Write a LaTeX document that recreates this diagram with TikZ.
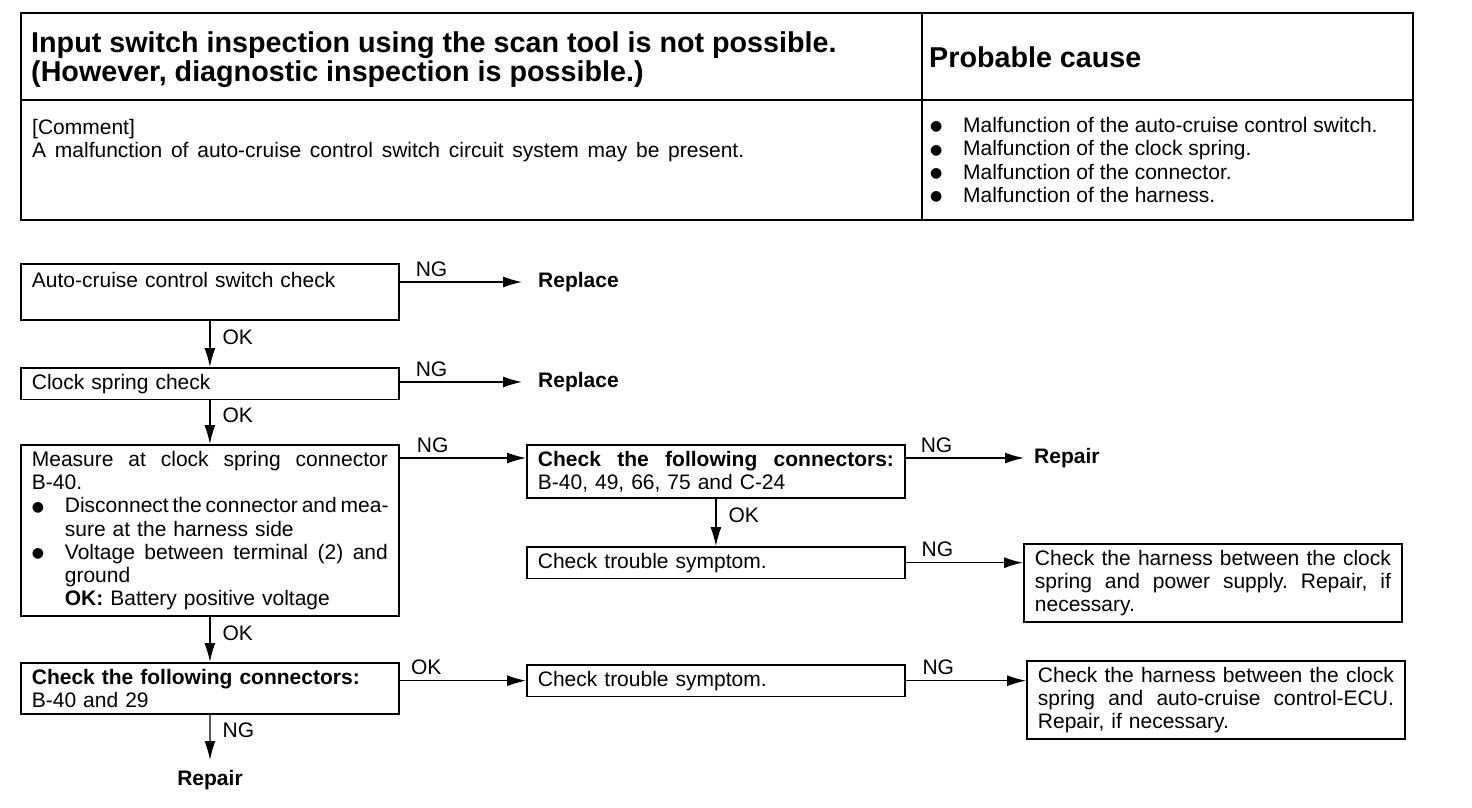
\documentclass[tikz,border=0pt]{standalone}
\usepackage{fontspec}
\setmainfont{Liberation Sans}
\newfontfamily\symfont{DejaVu Sans}
\usetikzlibrary{arrows.meta,positioning}
\newcommand\bodyfont{\fontsize{21}{23.3}\selectfont}
\newcommand\headfont{\fontsize{28.7}{29}\selectfont\bfseries}
\newcommand\jline[2][356pt]{\makebox[#1][s]{\frenchspacing\spaceskip=0pt\xspaceskip=0pt #2}}
\newcommand\bul{\makebox[33pt][l]{\raisebox{1.5pt}{\symfont\fontsize{14}{14}\selectfont ●}}}

\begin{document}
\begin{tikzpicture}[
    x=1pt,y=-1pt,>=Latex,
    stepbox/.style={draw,line width=1.8pt,anchor=north west,text width=356pt,
      inner xsep=11pt,inner ysep=6pt,align=left,font=\bodyfont},
    result/.style={anchor=west,inner ysep=2pt,font=\bodyfont\bfseries},
    lbl/.style={inner sep=2pt,font=\bodyfont},
    flow/.style={-{Latex[length=19pt,width=11pt]},line width=1.3pt}
  ]
  \useasboundingbox (0,0) rectangle (1472,808);

  % table
  \draw[line width=2.5pt] (21,13) rectangle (1413,220);
  \draw[line width=2pt] (21,100) -- (1413,100) (922,13) -- (922,220);
  \node[anchor=west,inner sep=0pt,align=left,font=\headfont] (title) at (31,59.5)
    {Input switch inspection using the scan tool is not possible.\\
     (However, diagnostic inspection is possible.)};
  \node[anchor=west,inner sep=0pt,font=\headfont] (cause) at (929,57) {Probable cause};
  \node[anchor=north west,inner sep=0pt,align=left,font=\bodyfont] (comment) at (32,119)
    {[Comment]\\
     \jline[712pt]{A malfunction of auto-cruise control switch circuit system may be present.}};
  \node[anchor=north west,inner sep=0pt,align=left,font=\bodyfont] (causes) at (930,117)
    {\bul Malfunction of the auto-cruise control switch.\\
     \bul Malfunction of the clock spring.\\
     \bul Malfunction of the connector.\\
     \bul Malfunction of the harness.};

  % flow chart
  \node[stepbox,text depth=25pt,inner ysep=8pt] (swchk) at (20,263) {Auto-cruise control switch check};
  \node[stepbox] (spchk) at (20,367) {Clock spring check};
  \node[stepbox] (meas) at (20,444)
    {\jline{Measure at clock spring connector}\\
     B-40.\\
     \bul\jline[323pt]{Disconnect the connector and mea-}\\
     \hspace*{33pt}sure at the harness side\\
     \bul\jline[323pt]{Voltage between terminal (2) and}\\
     \hspace*{33pt}ground\\
     \hspace*{33pt}\textbf{OK:} Battery positive voltage};
  \node[stepbox] (conA) at (526,444)
    {\jline{\textbf{Check the following connectors:}}\\
     B-40, 49, 66, 75 and C-24};
  \node[stepbox] (symA) at (526,546) {Check trouble symptom.};
  \node[stepbox] (harnA) at (1023,543)
    {\jline{Check the harness between the clock}\\
     \jline{spring and power supply. Repair, if}\\
     necessary.};
  \node[stepbox] (conB) at (20,662)
    {\textbf{Check the following connectors:}\\
     B-40 and 29};
  \node[stepbox] (symB) at (526,664) {Check trouble symptom.};
  \node[stepbox] (harnB) at (1026,660)
    {\jline{Check the harness between the clock}\\
     \jline{spring and auto-cruise control-ECU.}\\
     Repair, if necessary.};

  \node[result,inner xsep=16pt] (replA) at (522,282) {Replace};
  \node[result,inner xsep=16pt] (replB) at (522,382) {Replace};
  \node[result,inner xsep=10pt] (repA) at (1024,458) {Repair};
  \node[result,anchor=north,inner ysep=10pt] (repB) at (210,760) {Repair};

  \draw[flow] (swchk.east |- replA) -- node[lbl,above=3pt,pos=.26] {NG} (replA);
  \draw[flow] (swchk) -- node[lbl,right=10pt,pos=.35] {OK} (spchk);
  \draw[flow] (spchk.east |- replB) -- node[lbl,above=3pt,pos=.26] {NG} (replB);
  \draw[flow] (spchk) -- node[lbl,right=10pt,pos=.35] {OK} (meas);
  \draw[flow] (meas.east |- repA) -- node[lbl,above=3pt,pos=.26] {NG} (conA.west |- repA);
  \draw[flow] (conA.east |- repA) -- node[lbl,above=3pt,pos=.26] {NG} (repA);
  \draw[flow] (conA) -- node[lbl,right=10pt,pos=.35] {OK} (symA);
  \draw[flow] (symA) -- node[lbl,above=3pt,pos=.27] {NG} (symA -| harnA.west);
  \draw[flow] (meas) -- node[lbl,right=10pt,pos=.35] {OK} (conB);
  \draw[flow] (conB.east |- symB) -- node[lbl,above=3pt,pos=.21] {OK} (symB);
  \draw[flow] (symB) -- node[lbl,above=3pt,pos=.27] {NG} (symB -| harnB.west);
  \draw[flow] (conB) -- node[lbl,right=10pt,pos=.35] {NG} (repB);
\end{tikzpicture}
\end{document}
